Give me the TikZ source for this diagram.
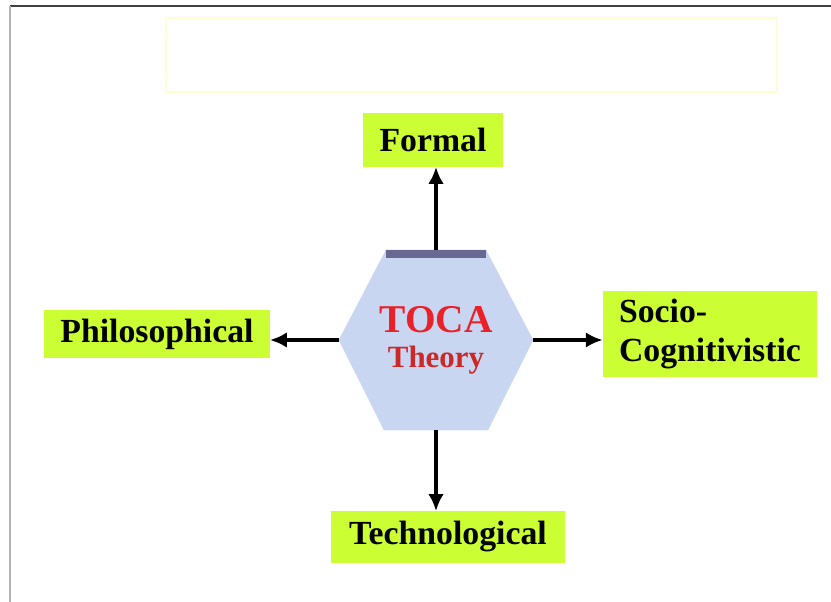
\documentclass[tikz,border=0pt]{standalone}
\usepackage{fontspec}
\setmainfont{Liberation Serif}
\usetikzlibrary{arrows.meta,backgrounds}
\definecolor{boxgreen}{RGB}{204,255,51}
\definecolor{hexblue}{RGB}{200,214,242}
\definecolor{hexband}{RGB}{104,104,146}
\definecolor{tocared}{RGB}{232,34,40}
\definecolor{theoryred}{RGB}{205,40,40}
\colorlet{frameline}{black!75}

\begin{document}
\begin{tikzpicture}[x=0.025cm,y=-0.025cm,
        areabox/.style={fill=boxgreen,inner sep=0pt,
            font=\fontsize{24}{28}\selectfont\bfseries},
        link/.style={line width=2.4pt,-{Latex[length=12pt,width=11pt]}}]
            \useasboundingbox (0,0) rectangle (831,602);
            \draw [frameline,line width=1.5pt] (10,6) -- (831,6);
            \draw [black!30,line width=1.5pt] (10,6) -- (10,602);
            \draw [yellow!18,line width=1pt] (166,18) rectangle (777,92);
            % centre
            \node [minimum width=4.85cm,minimum height=4.5cm,align=center,
                   font=\fontsize{28}{25}\selectfont\bfseries]
                (toca) at (436,340)
                {\color{tocared}TOCA\\
                 \fontsize{22}{25}\selectfont\color{theoryred}Theory};
            \begin{scope}[on background layer]
                \fill [hexblue] ([xshift=-1.25cm]toca.north)
                    -- ([xshift=1.25cm]toca.north)
                    -- (toca.east)
                    -- ([xshift=1.3cm]toca.south)
                    -- ([xshift=-1.3cm]toca.south)
                    -- (toca.west)
                    -- cycle;
                \fill [hexband] ([xshift=-1.25cm]toca.north)
                    rectangle ([xshift=1.25cm,yshift=-0.2cm]toca.north);
            \end{scope}
            % the four areas
            \node [areabox,minimum width=3.48cm,minimum height=1.33cm]
                (formal) at (433,140) {Formal};
            \node [areabox,minimum width=5.63cm,minimum height=1.2cm]
                (philo) at (157,334) {Philosophical};
            \node [areabox,minimum width=5.35cm,minimum height=2.13cm,align=left]
                (socio) at (710,334) {Socio-\\Cognitivistic};
            \node [areabox,minimum width=5.83cm,minimum height=1.28cm]
                (techno) at (448,537) {Technological};
            % arrows
            \draw [link] (toca.north) -- (toca.north |- formal.south);
            \draw [link] (toca.west) -- (toca.west -| philo.east);
            \draw [link] (toca.east) -- (toca.east -| socio.west);
            \draw [link] (toca.south) -- (toca.south |- techno.north);
        \end{tikzpicture}
\end{document}
